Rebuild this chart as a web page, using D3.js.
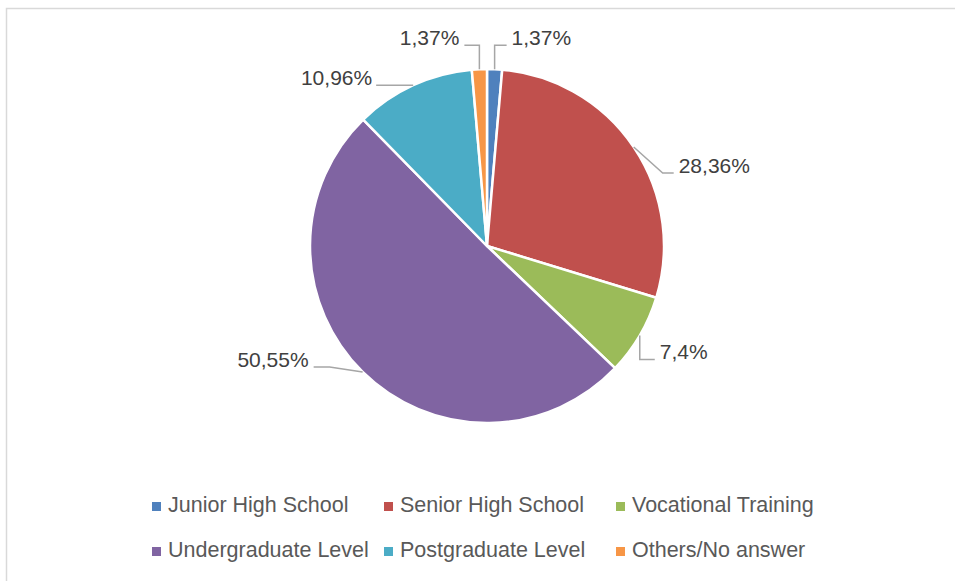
<!DOCTYPE html>
<html>
<head>
<meta charset="utf-8">
<script src="https://cdn.jsdelivr.net/npm/d3@7"></script>
<style>
  html, body { margin: 0; padding: 0; background: #fff; }
  svg { display: block; }
</style>
</head>
<body>
<svg id="chart" width="955" height="581"></svg>
<script>
// data
const categories = ["Junior High School", "Senior High School", "Vocational Training",
  "Undergraduate Level", "Postgraduate Level", "Others/No answer"]
const shares = [1.37, 28.36, 7.4, 50.55, 10.96, 1.37]
const shareLabels = ["1,37%", "28,36%", "7,4%", "50,55%", "10,96%", "1,37%"]
const colors = ["#4f81bd", "#c0504d", "#9bbb59", "#8064a2", "#4bacc6", "#f79646"]

// where each data label sits, relative to the point where its leader meets the slice
// side: 1 = text right of leader, -1 = text left; run = horizontal part of the leader
const labelOffsets = [
  { dx: 17, dy: -24, side: 1, run: 17 },
  { dx: 45, dy: 26, side: 1, run: 16 },
  { dx: 20, dy: 24, side: 1, run: 20 },
  { dx: -54, dy: -5, side: -1, run: 21 },
  { dx: -41, dy: 0, side: -1, run: 4 },
  { dx: -20, dy: -24, side: -1, run: 20 }
]

const svg = d3.select("#chart")
const font = "'Liberation Sans', Arial, sans-serif"

// chart frame
svg.append("rect")
  .attr("x", 6.5)
  .attr("y", 8.5)
  .attr("width", 960)
  .attr("height", 600)
  .attr("fill", "none")
  .attr("stroke", "#d9d9d9")
  .attr("stroke-width", 1.5)

const cx = 487
const cy = 246
const radius = 177

const pie = d3.pie().sort(null).value(d => d)
const arcs = pie(shares)
const arc = d3.arc().innerRadius(0).outerRadius(radius)

const g = svg.append("g").attr("transform", `translate(${cx},${cy})`)

g.selectAll("path.slice")
  .data(arcs)
  .enter()
  .append("path")
  .attr("class", "slice")
  .attr("d", arc)
  .attr("fill", (d, i) => colors[i])
  .attr("stroke", "#fff")
  .attr("stroke-width", 2.5)
  .attr("stroke-linejoin", "round")

// data labels with leader lines
arcs.forEach((d, i) => {
  const mid = (d.startAngle + d.endAngle) / 2
  const ex = radius * Math.sin(mid)
  const ey = -radius * Math.cos(mid)
  const o = labelOffsets[i]
  const tx = ex + o.dx
  const ty = ey + o.dy

  const pts = [
    [ex, ey],
    [tx - o.side * o.run, ty],
    [tx - o.side * 5, ty]
  ]
  g.append("path")
    .attr("d", d3.line()(pts))
    .attr("fill", "none")
    .attr("stroke", "#a6a6a6")
    .attr("stroke-width", 1.5)

  g.append("text")
    .attr("x", tx)
    .attr("y", ty)
    .attr("text-anchor", o.side > 0 ? "start" : "end")
    .style("font-family", font)
    .style("font-size", "21px")
    .style("fill", "#404040")
    .text(shareLabels[i])
})

// legend, 3 columns x 2 rows
const legendX = 152
const legendY = 512
const colWidth = 232
const rowHeight = 45

const legend = svg.append("g")
  .selectAll("g")
  .data(categories)
  .enter()
  .append("g")
  .attr("transform", (d, i) =>
    `translate(${legendX + (i % 3) * colWidth},${legendY + Math.floor(i / 3) * rowHeight})`)

legend.append("rect")
  .attr("x", 0)
  .attr("y", -10)
  .attr("width", 9)
  .attr("height", 9)
  .attr("fill", (d, i) => colors[i])

legend.append("text")
  .attr("x", 16)
  .attr("y", 0)
  .style("font-family", font)
  .style("font-size", "21.5px")
  .style("fill", "#595959")
  .text(d => d)
</script>
</body>
</html>
